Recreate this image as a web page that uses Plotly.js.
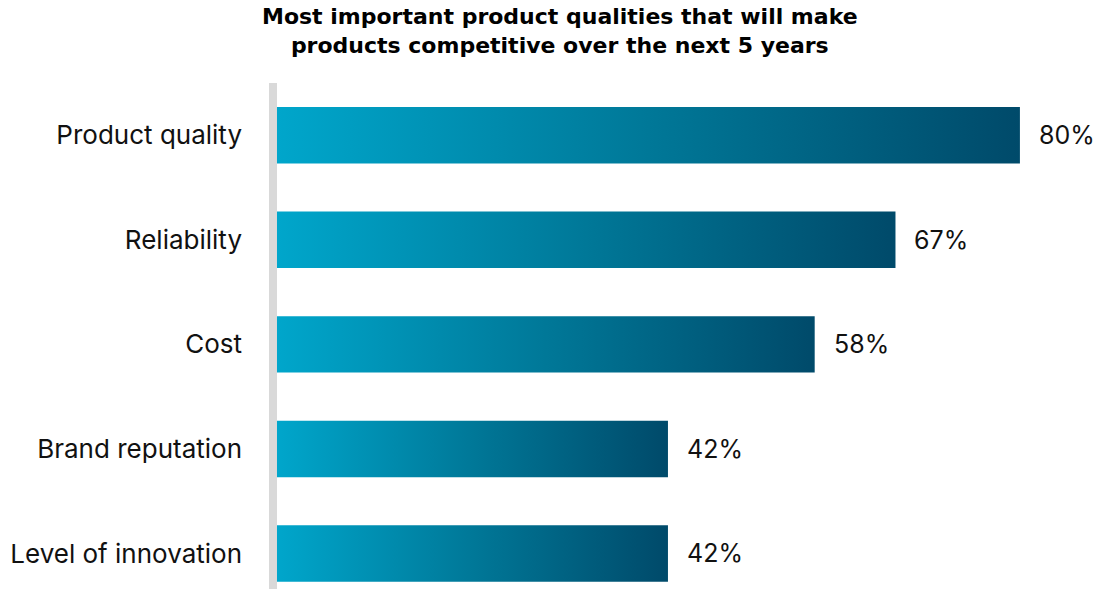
<!DOCTYPE html>
<html>
<head>
<meta charset="utf-8">
<script src="https://cdn.plot.ly/plotly-3.0.1.min.js"></script>
<style>html,body{margin:0;padding:0;background:#fff;}#chart{width:1097px;height:589px;}</style>
</head>
<body>
<div id="chart"></div>
<script>
const categories = ["Product quality", "Reliability", "Cost", "Brand reputation", "Level of innovation"];
const values = [80, 66.6, 57.9, 42.1, 42.1];
const valueLabels = ["80%", "67%", "58%", "42%", "42%"];
const titleText = "Most important product qualities that will make<br>products competitive over the next 5 years";

const trace = {
  type: "bar",
  orientation: "h",
  x: values,
  y: categories,
  marker: {color: "#0080a0"},
  hoverinfo: "none"
};

const annotations = values.map((v, i) => ({
  x: v, y: categories[i], xref: "x", yref: "y",
  text: valueLabels[i], showarrow: false, xanchor: "left", xshift: 17,
  font: {family: "Inter, 'Noto Sans', sans-serif", size: 25, color: "#111"}
}));
annotations.push({
  text: titleText, showarrow: false,
  xref: "paper", x: 0.3514, xanchor: "center",
  yref: "paper", y: 1.1028, yanchor: "middle",
  font: {family: "'DejaVu Sans', sans-serif", size: 22, weight: 700, color: "#000"}
});

const layout = {
  width: 1097, height: 589,
  margin: {l: 269, r: 0, t: 83, b: 0},
  paper_bgcolor: "#fff", plot_bgcolor: "#fff",
  bargap: 0.46,
  showlegend: false,
  xaxis: {range: [-0.86, 88.3], showgrid: false, zeroline: false, showticklabels: false, fixedrange: true},
  yaxis: {
    type: "category", range: [4.34, -0.5], showgrid: false, zeroline: false,
    ticks: "", ticklabelstandoff: 26,
    tickfont: {family: "Inter, 'Noto Sans', sans-serif", size: 26, color: "#111"}
  },
  shapes: [{type: "rect", xref: "x", yref: "paper", x0: -0.86, x1: 0, y0: 0, y1: 1, fillcolor: "#d9d9d9", line: {width: 0}, layer: "below"}],
  annotations: annotations
};

Plotly.newPlot("chart", [trace], layout, {displayModeBar: false, staticPlot: true}).then(gd => {
  const svg = gd.querySelector(".main-svg");
  const ns = "http://www.w3.org/2000/svg";
  let defs = svg.querySelector("defs");
  if (!defs) { defs = document.createElementNS(ns, "defs"); svg.insertBefore(defs, svg.firstChild); }
  const g = document.createElementNS(ns, "linearGradient");
  g.setAttribute("id", "barGrad");
  g.setAttribute("x1", "0"); g.setAttribute("y1", "0"); g.setAttribute("x2", "1"); g.setAttribute("y2", "0");
  [["0", "#00a6cb"], ["0.5", "#007898"], ["1", "#004a6a"]].forEach(([o, c]) => {
    const s = document.createElementNS(ns, "stop");
    s.setAttribute("offset", o); s.setAttribute("stop-color", c);
    g.appendChild(s);
  });
  defs.appendChild(g);
  gd.querySelectorAll(".bars .point path").forEach(p => { p.style.fill = "url(#barGrad)"; });
});
</script>
</body>
</html>
